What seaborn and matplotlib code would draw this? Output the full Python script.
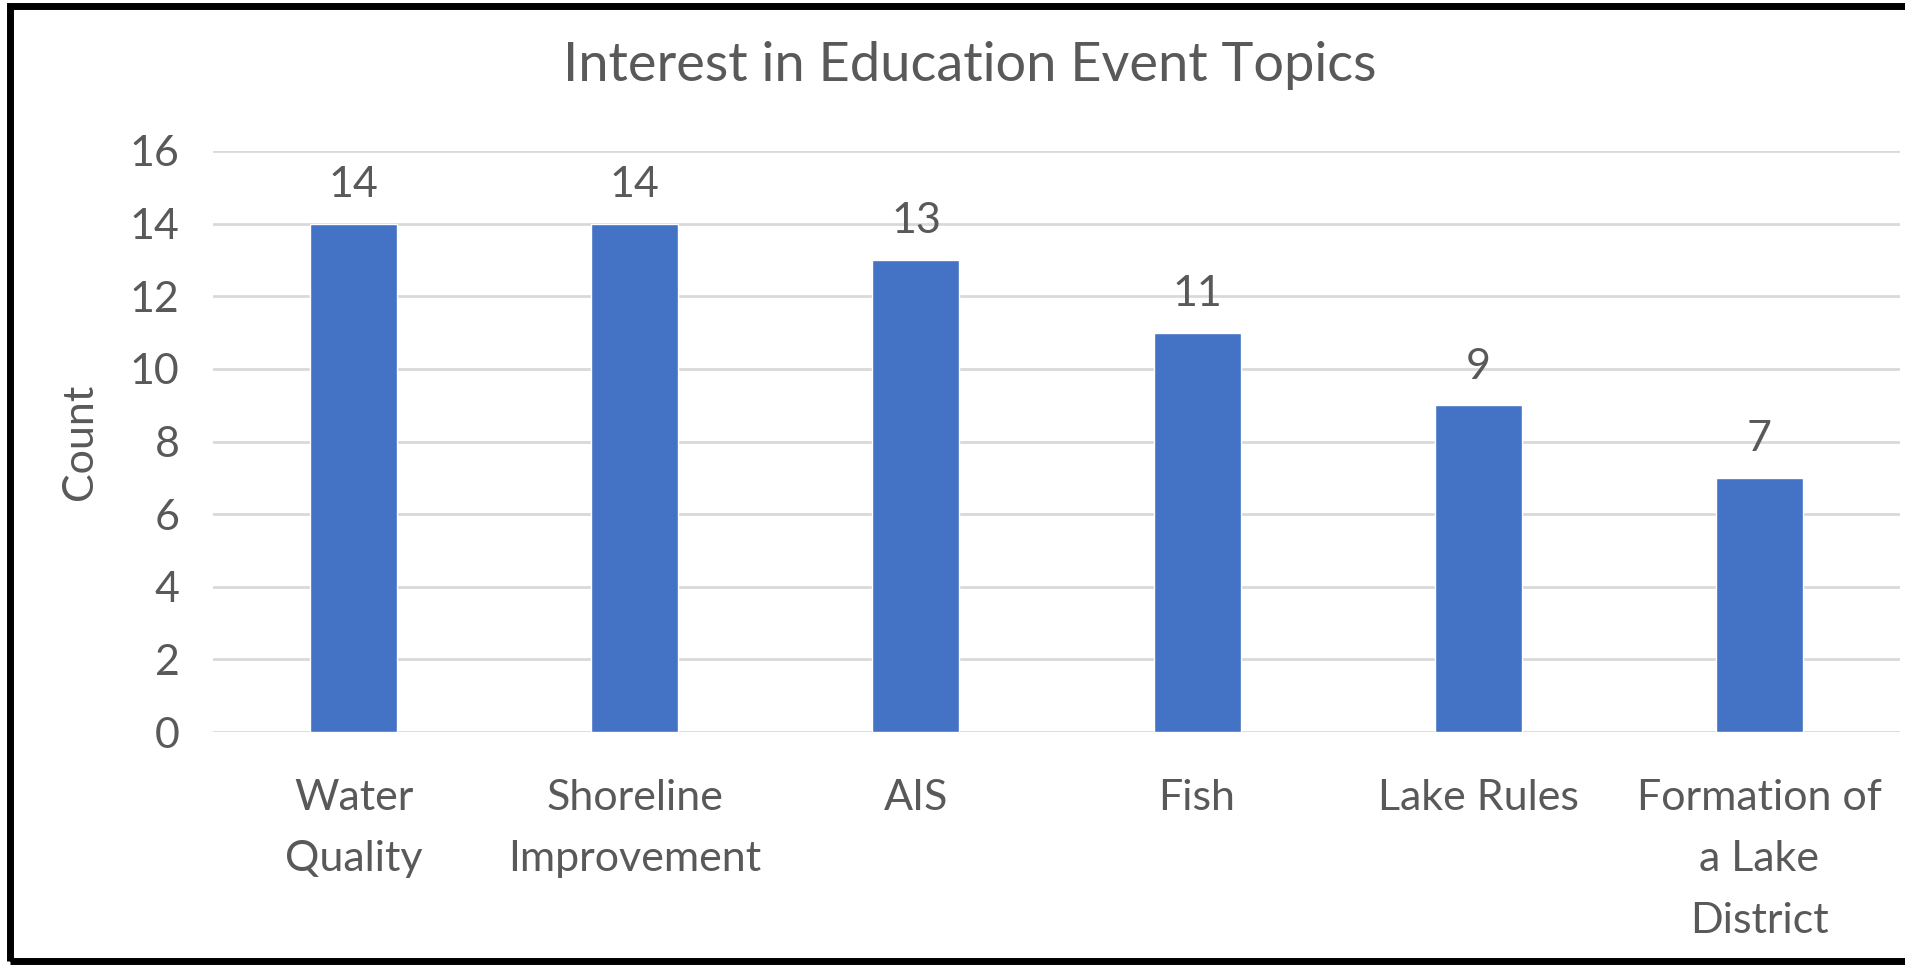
import matplotlib
matplotlib.use('Agg')
import matplotlib.pyplot as plt
import pandas as pd
import seaborn as sns
from matplotlib.patches import Rectangle

topics = ['Water\nQuality', 'Shoreline\nImprovement', 'AIS', 'Fish', 'Lake Rules',
          'Formation of\na Lake\nDistrict']
counts = [14, 14, 13, 11, 9, 7]
yticks = [0, 2, 4, 6, 8, 10, 12, 14, 16]

sns.set_style('white')
plt.rcParams['font.family'] = ['Lato', 'DejaVu Sans']
txt = '#595959'

df = pd.DataFrame({'topic': topics, 'count': counts})

W, H = 1906, 966
fig = plt.figure(figsize=(W / 100, H / 100), dpi=100)
ax = fig.add_axes([213 / W, 1 - 732 / H, (1900 - 213) / W, (732 - 151) / H])

sns.barplot(data=df, x='topic', y='count', color='#4472C4', saturation=1,
            width=0.31, ax=ax)

ax.set_ylim(0, 16)
ax.set_yticks(yticks)
ax.yaxis.grid(True, color='#D9D9D9', lw=2)
ax.set_axisbelow(True)
for s in ax.spines.values():
    s.set_visible(False)
ax.tick_params(axis='both', length=0, labelsize=31, colors=txt)
ax.tick_params(axis='y', pad=24)
ax.tick_params(axis='x', pad=34)
for lab in ax.get_xticklabels():
    lab.set_linespacing(1.75)
ax.set_xlabel('')
ax.set_ylabel('Count', fontsize=31, color=txt, labelpad=22)

ax.bar_label(ax.containers[0], padding=14, fontsize=31, color=txt)

fig.text(970 / W, 1 - 66 / H, 'Interest in Education Event Topics',
         ha='center', va='center', fontsize=39, color=txt)

# black frame around the chart
fig.patches.append(Rectangle((10 / W, 5 / H), 1.0, (962 - 7) / H, transform=fig.transFigure,
                             fill=False, edgecolor='black', lw=5))

fig.savefig('out.png', dpi=100)
